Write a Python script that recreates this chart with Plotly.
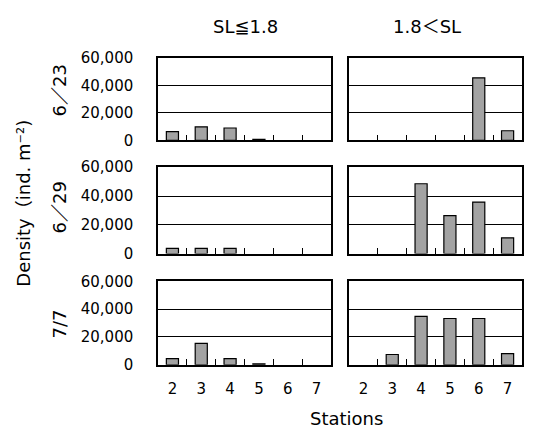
import plotly.graph_objects as go
from plotly.subplots import make_subplots

W, H = 547, 439

stations = ["2", "3", "4", "5", "6", "7"]
dates = ["6／23", "6／29", "7/7"]
groups = ["SL≦1.8", "1.8＜SL"]

# Density (ind. m^-2) per station; rows = sampling dates (None = no individuals)
small_sl = [
    [6400, 9900, 9000, 700, None, None],
    [3600, 3600, 3600, None, None, None],
    [4400, 15400, 4400, 700, None, None],
]
large_sl = [
    [None, None, None, None, 45500, 7000],
    [None, None, 48500, 26300, 35800, 10900],
    [None, 7400, 34800, 33300, 33300, 8100],
]

y_ticks = [0, 20000, 40000, 60000]

FONT = "DejaVu Sans, Noto Sans CJK JP, sans-serif"

fig = make_subplots(rows=3, cols=2)

# panel placement in pixels (left, right) and (top, bottom)
col_px = [(158, 331), (349, 522)]
row_px = [(51, 137), (165, 255), (284, 371)]

for r in range(3):
    for c, data in enumerate([small_sl, large_sl]):
        fig.add_trace(
            go.Bar(
                x=stations,
                y=data[r],
                marker=dict(color="#a3a3a3", line=dict(color="black", width=1.2)),
                showlegend=False,
            ),
            row=r + 1,
            col=c + 1,
        )

for r in range(3):
    for c in range(2):
        idx = r * 2 + c + 1
        xa = "xaxis" if idx == 1 else f"xaxis{idx}"
        ya = "yaxis" if idx == 1 else f"yaxis{idx}"
        x0, x1 = col_px[c]
        t, b = row_px[r]
        fig.layout[xa].update(
            domain=[x0 / W, x1 / W],
            type="category",
            showline=True,
            linecolor="black",
            linewidth=1.5,
            mirror=True,
            ticks="inside",
            tickson="boundaries",
            ticklen=6,
            tickcolor="black",
            tickwidth=1,
            showgrid=False,
            showticklabels=(r == 2),
            tickfont=dict(family=FONT, size=15, color="black"),
            ticklabelstandoff=9,
        )
        fig.layout[ya].update(
            domain=[1 - b / H, 1 - t / H],
            range=[0, 60000],
            tickvals=y_ticks,
            tickformat=",",
            showline=True,
            linecolor="black",
            linewidth=1.5,
            mirror=True,
            ticks="",
            showgrid=True,
            gridcolor="black",
            gridwidth=1,
            zeroline=False,
            showticklabels=(c == 0),
            tickfont=dict(family=FONT, size=15, color="black"),
            ticklabelstandoff=20,
        )

annotations = []
# column headers
header_x = [245, 427]
for c, g in enumerate(groups):
    annotations.append(dict(
        text=g, x=header_x[c] / W, y=1 - 18 / H,
        xref="paper", yref="paper", showarrow=False,
        font=dict(family=FONT, size=18, color="black"),
        xanchor="center", yanchor="middle",
    ))
# row labels (sampling dates)
row_centers = [85, 207, 329]
for r, d in enumerate(dates):
    annotations.append(dict(
        text=d, x=60 / W, y=1 - row_centers[r] / H,
        xref="paper", yref="paper", showarrow=False, textangle=-90,
        font=dict(family=FONT, size=18, color="black"),
        xanchor="center", yanchor="middle",
    ))
# shared axis titles
annotations.append(dict(
    text="Density（ind. m⁻²)", x=24 / W, y=1 - 203 / H,
    xref="paper", yref="paper", showarrow=False, textangle=-90,
    font=dict(family=FONT, size=18, color="black"),
    xanchor="center", yanchor="middle",
))
annotations.append(dict(
    text="Stations", x=346 / W, y=1 - 427 / H,
    xref="paper", yref="paper", showarrow=False,
    font=dict(family=FONT, size=18, color="black"),
    xanchor="center", yanchor="middle",
))

fig.update_layout(
    width=W,
    height=H,
    margin=dict(l=0, r=0, t=0, b=0),
    paper_bgcolor="white",
    plot_bgcolor="white",
    bargap=0.58,
    annotations=annotations,
    font=dict(family=FONT, color="black"),
)

fig.write_html("out.html")
